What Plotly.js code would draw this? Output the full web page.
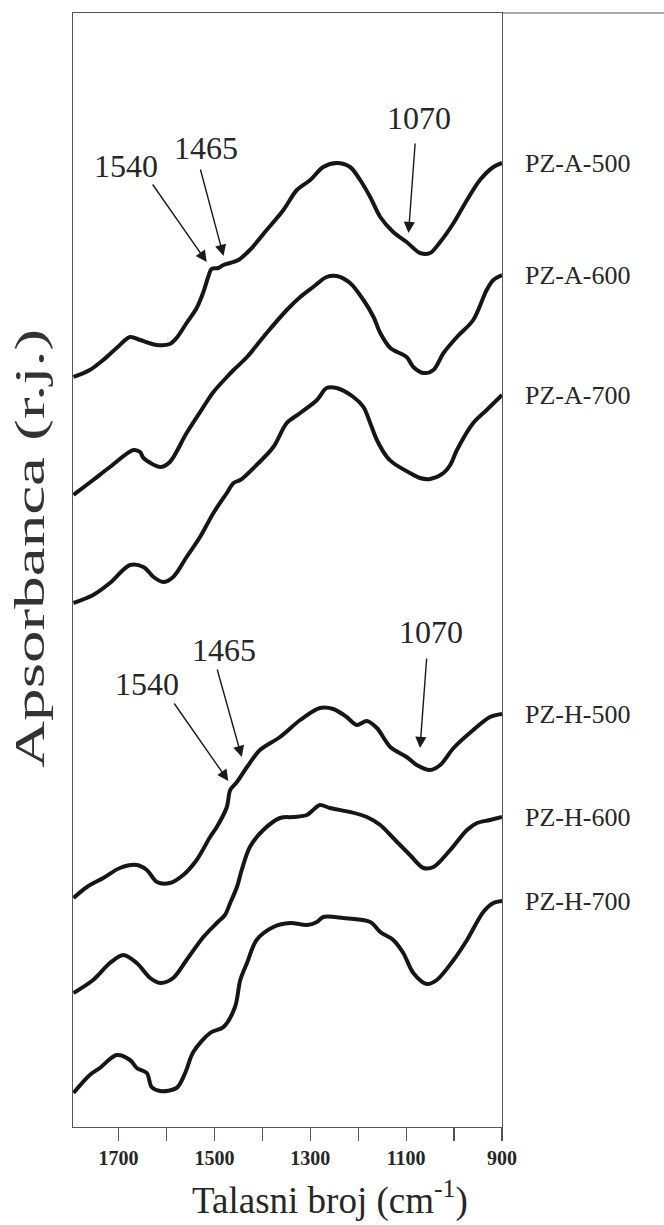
<!DOCTYPE html>
<html><head><meta charset="utf-8">
<script src="https://cdn.plot.ly/plotly-3.0.1.min.js"></script>
<style>html,body{margin:0;padding:0;background:#fff}</style>
</head><body>
<div id="chart" style="width:664px;height:1225px"></div>
<script>
// Wavenumber (cm-1) and absorbance (a.u., stacked offsets)
const wnA500 = [1794,1760,1732,1704,1676,1655,1620,1593,1579,1558,1537,1523,1513,1506,1492,1481,1467,1450,1426,1391,1356,1328,1300,1273,1245,1217,1196,1175,1154,1127,1099,1071,1050,1029,1001,973,946,918,900];
const abA500 = [7.50,7.57,7.67,7.79,7.90,7.87,7.82,7.83,7.89,8.04,8.19,8.35,8.50,8.58,8.59,8.62,8.64,8.67,8.77,8.97,9.17,9.37,9.47,9.60,9.64,9.60,9.47,9.30,9.10,8.95,8.85,8.74,8.74,8.85,9.04,9.27,9.47,9.60,9.64];

const wnA600 = [1794,1753,1718,1669,1655,1648,1613,1593,1558,1523,1502,1474,1460,1432,1391,1349,1321,1294,1266,1245,1217,1189,1168,1154,1133,1099,1085,1064,1043,1022,994,960,932,918,900];
const abA600 = [6.32,6.47,6.60,6.77,6.75,6.69,6.60,6.65,6.94,7.20,7.35,7.50,7.57,7.70,7.94,8.17,8.30,8.40,8.50,8.51,8.44,8.27,8.10,7.94,7.79,7.70,7.60,7.54,7.57,7.74,7.90,8.07,8.37,8.47,8.52];

const wnA700 = [1794,1753,1718,1676,1648,1627,1607,1586,1558,1530,1502,1474,1460,1446,1412,1377,1349,1321,1286,1266,1245,1210,1189,1175,1161,1140,1127,1092,1071,1050,1022,1008,994,960,932,900];
const abA700 = [5.24,5.32,5.44,5.62,5.60,5.50,5.45,5.50,5.70,5.90,6.14,6.34,6.44,6.47,6.62,6.80,7.04,7.14,7.27,7.39,7.39,7.30,7.20,7.04,6.87,6.70,6.64,6.54,6.49,6.48,6.54,6.62,6.77,7.04,7.17,7.32];

const wnH500 = [1794,1766,1732,1697,1662,1641,1620,1593,1565,1537,1509,1495,1474,1467,1453,1432,1405,1363,1321,1280,1252,1224,1203,1182,1161,1133,1099,1078,1050,1029,1001,960,925,900];
const abH500 = [2.29,2.40,2.49,2.59,2.62,2.57,2.45,2.44,2.52,2.67,2.90,3.00,3.20,3.37,3.45,3.60,3.77,3.90,4.07,4.19,4.18,4.10,4.02,4.06,3.99,3.80,3.70,3.62,3.57,3.62,3.79,3.97,4.10,4.13];

const wnH600 = [1794,1753,1718,1690,1662,1634,1613,1586,1558,1523,1495,1478,1467,1453,1443,1426,1398,1363,1335,1307,1294,1280,1259,1217,1182,1154,1127,1092,1064,1043,1008,973,952,925,900];
const abH600 = [1.34,1.47,1.64,1.72,1.64,1.49,1.44,1.49,1.67,1.90,2.04,2.12,2.24,2.40,2.57,2.80,2.97,3.09,3.10,3.12,3.17,3.22,3.19,3.15,3.10,3.02,2.89,2.72,2.59,2.60,2.77,2.97,3.04,3.07,3.10];

const wnH700 = [1794,1760,1739,1704,1676,1662,1641,1631,1613,1579,1561,1544,1509,1481,1457,1446,1432,1412,1377,1342,1307,1286,1273,1231,1175,1154,1127,1106,1085,1057,1036,1001,973,939,918,900];
const abH700 = [0.34,0.52,0.59,0.72,0.67,0.59,0.54,0.40,0.36,0.39,0.54,0.75,0.94,1.00,1.20,1.47,1.64,1.87,2.00,2.04,2.02,2.05,2.10,2.09,2.05,1.95,1.87,1.74,1.54,1.43,1.47,1.67,1.87,2.15,2.24,2.26];

const seriesNames = ["PZ-A-500","PZ-A-600","PZ-A-700","PZ-H-500","PZ-H-600","PZ-H-700"];
const tickVals = [1700,1500,1300,1100,900];
const tickText = ["1700","1500","1300","1100","900"];

// Band markers: label text, label position, arrow tail and arrow tip (wn, absorbance)
const bandLabels = ["1540","1465","1070","1540","1465","1070"];
const bandLabelWn = [1684,1517,1073,1641,1480,1048];
const bandLabelAb = [9.61,9.79,10.09,4.43,4.77,4.95];
const arrowTailWn = [1631,1530,1081,1586,1495,1057];
const arrowTailAb = [9.44,9.59,9.85,4.25,4.59,4.70];
const arrowTipWn = [1516,1481,1095,1471,1443,1071];
const arrowTipAb = [8.65,8.71,8.94,3.46,3.70,3.79];

const allWn = [wnA500,wnA600,wnA700,wnH500,wnH600,wnH700];
const allAb = [abA500,abA600,abA700,abH500,abH600,abH700];

const FONT = "Liberation Serif, Times New Roman, serif";
const TXT = '#262626';
const traces = allWn.map((wn,i)=>({
  x: wn, y: allAb[i], name: seriesNames[i], type:'scatter', mode:'lines',
  line:{color:'#161616', width:4, shape:'spline', smoothing:0.9},
  showlegend:false, hoverinfo:'skip'
}));

const annotations = [];
seriesNames.forEach((n,i)=>{
  const ab = allAb[i];
  annotations.push({xref:'paper', yref:'y', x:1.049, y:ab[ab.length-1], xanchor:'left', yanchor:'middle',
    text:n, showarrow:false, font:{family:FONT, size:26, color:TXT}});
});
bandLabels.forEach((t,i)=>{
  annotations.push({xref:'x', yref:'y', x:bandLabelWn[i], y:bandLabelAb[i], text:t, showarrow:false,
    xanchor:'center', yanchor:'middle', font:{family:FONT, size:32, color:TXT}});
  annotations.push({xref:'x', yref:'y', axref:'x', ayref:'y', x:arrowTipWn[i], y:arrowTipAb[i],
    ax:arrowTailWn[i], ay:arrowTailAb[i], text:'', showarrow:true, arrowhead:2, arrowsize:1.6,
    arrowwidth:1.4, arrowcolor:'#1a1a1a', standoff:0, startstandoff:0});
});
annotations.push({xref:'paper', yref:'paper', x:(330-73)/429, y:(1127-1198)/1114, xanchor:'center', yanchor:'middle',
  text:'Talasni broj (cm<sup>-1</sup>)', showarrow:false, font:{family:FONT, size:37, color:TXT}});
annotations.push({xref:'paper', yref:'paper', x:(30-73)/429, y:(1127-549)/1114, xanchor:'center', yanchor:'middle',
  text:'Apsorbanca (r.j.)', textangle:-90, showarrow:false, font:{family:FONT, size:42, color:'#333'}});

const layout = {
  width:664, height:1225,
  margin:{l:73, r:162, t:13, b:98, pad:0},
  paper_bgcolor:'#fff', plot_bgcolor:'#fff',
  xaxis:{range:[1795,900], showline:true, mirror:true, linecolor:'#555', linewidth:1.2,
    ticks:'outside', ticklen:13, tickwidth:1.2, tickcolor:'#555',
    tickvals:tickVals, ticktext:tickText, showgrid:false, zeroline:false,
    minor:{ticks:'outside', ticklen:13, tickwidth:1.2, tickcolor:'#555', dtick:100, tick0:900, showgrid:false},
    tickfont:{family:FONT, size:20, weight:'bold', color:TXT}},
  yaxis:{range:[0,11.14], showline:true, mirror:true, linecolor:'#555', linewidth:1.2,
    showticklabels:false, ticks:'', showgrid:false, zeroline:false},
  shapes:[{type:'line', xref:'paper', yref:'paper', x0:1, x1:1.4, y0:1, y1:1, line:{color:'#555', width:1.2}}],
  annotations:annotations
};
Plotly.newPlot('chart', traces, layout, {staticPlot:true, displayModeBar:false}).then(gd=>{
  // the reference's axis label is drawn elongated along its length
  gd.querySelectorAll('g.annotation').forEach(g=>{
    const t = g.querySelector('text');
    if(t && t.textContent.indexOf('Apsorbanca')===0){
      const bb = t.getBBox();
      const cx = bb.x + bb.width/2, cy = bb.y + bb.height/2;
      t.setAttribute('transform', 'translate('+cx+','+cy+') scale(1.55,1) translate('+(-cx)+','+(-cy)+')');
    }
  });
});
</script>
</body></html>
